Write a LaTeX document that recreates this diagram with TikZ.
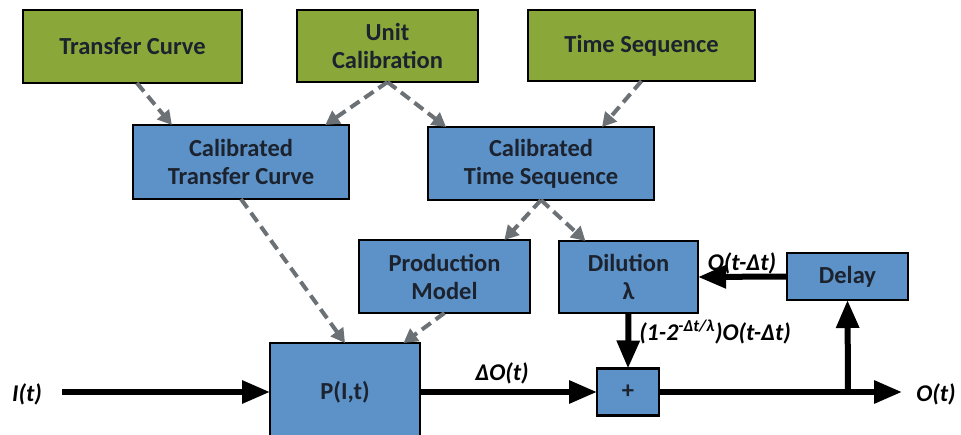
\documentclass[tikz,border=0pt]{standalone}
\usepackage{fontspec}
\setmainfont{Carlito}
\usetikzlibrary{arrows.meta,calc}
\definecolor{boxgreen}{RGB}{138,168,58}
\definecolor{boxblue}{RGB}{92,146,199}
\definecolor{boxtext}{RGB}{28,34,46}
\definecolor{dashgray}{RGB}{108,113,118}

\begin{document}
\begin{tikzpicture}[y=1pt, x=1pt, yscale=-1, inner sep=0pt, outer sep=0pt,
  inbox/.style={draw=black,fill=boxgreen,line width=2.2pt,align=center,
    text=boxtext,font=\fontsize{24.5}{28}\selectfont\bfseries},
  calbox/.style={inbox,fill=boxblue},
  dashflow/.style={draw=dashgray,line width=4pt,dash pattern=on 11pt off 6pt,
    -{Triangle[length=14pt,width=15pt]}},
  sigflow/.style={draw=black,line width=6pt,-{Triangle[length=28pt,width=22pt]}},
  siglabel/.style={font=\fontsize{24}{28}\selectfont\bfseries\itshape}]
\useasboundingbox[fill=white] (0,0) rectangle (961,435);
  % input blocks
  \path (132.5,46.5) node[inbox,minimum width=219pt,minimum height=73pt]
    (tc) {Transfer Curve};
  \path (387.5,46.0) node[inbox,minimum width=181pt,minimum height=72pt]
    (uc) {Unit\\Calibration};
  \path (641.5,45.5) node[inbox,minimum width=227pt,minimum height=71pt]
    (ts) {Time Sequence};
  % calibrated blocks
  \path (241.0,162.0) node[calbox,minimum width=216pt,minimum height=74pt]
    (ctc) {Calibrated\\Transfer Curve};
  \path (541.0,163.5) node[calbox,minimum width=226pt,minimum height=73pt]
    (cts) {Calibrated\\Time Sequence};
  \path (444.5,276.5) node[calbox,minimum width=171pt,minimum height=73pt]
    (pm) {Production\\Model};
  \path (628.5,277.0) node[calbox,minimum width=139pt,minimum height=72pt]
    (dil) {Dilution\\λ};
  \path (847.5,276.5) node[calbox,minimum width=121pt,minimum height=47pt]
    (delay) {Delay};
  \path (345.0,392.0) node[calbox,minimum width=150pt,minimum height=98pt]
    (p) {P(I,t)};
  \path (628.0,392.0) node[calbox,minimum width=62pt,minimum height=47pt]
    (sum) {+};
  % signal labels
  \path (27,394) node[siglabel] (itext) {I(t)};
  \path (936,394) node[siglabel] (otext) {O(t)};
  \path (502,373) node[siglabel] (dotext) {ΔO(t)};
  \path (742,263) node[siglabel] (fbtext) {O(t-Δt)};
  \path (715,332) node[siglabel] (diltext)
    {(1-2\textsuperscript{-Δt/λ})O(t-Δt)};
  \coordinate (istart) at (62,392);
  \coordinate (oend) at (902,392);
  \coordinate (br) at (848,392);
  % calibration flow
  \draw[dashflow] ($(tc.south west)!.52!(tc.south east)$) --
    ($(ctc.north west)!.18!(ctc.north east)$);
  \draw[dashflow] (uc.south) -- ($(ctc.north west)!.89!(ctc.north east)$);
  \draw[dashflow] (uc.south) -- ($(cts.north west)!.08!(cts.north east)$);
  \draw[dashflow] (ts.south) -- ($(cts.north west)!.77!(cts.north east)$);
  \draw[dashflow] (ctc.south) -- (p.north);
  \draw[dashflow] (cts.south) -- ($(pm.north west)!.85!(pm.north east)$);
  \draw[dashflow] (cts.south) -- ($(dil.north west)!.19!(dil.north east)$);
  \draw[dashflow] (pm.south) -- ($(p.north west)!.89!(p.north east)$);
  % signal flow
  \draw[sigflow] (istart) -- (p.west);
  \draw[sigflow] (p.east) -- (sum.west);
  \draw[sigflow] (sum.east) -- (oend);
  \draw[sigflow] (br) -- (delay.south);
  \draw[sigflow] (delay.west) -- (dil.east);
  \draw[sigflow] (dil.south) -- (sum.north);
\end{tikzpicture}
\end{document}
